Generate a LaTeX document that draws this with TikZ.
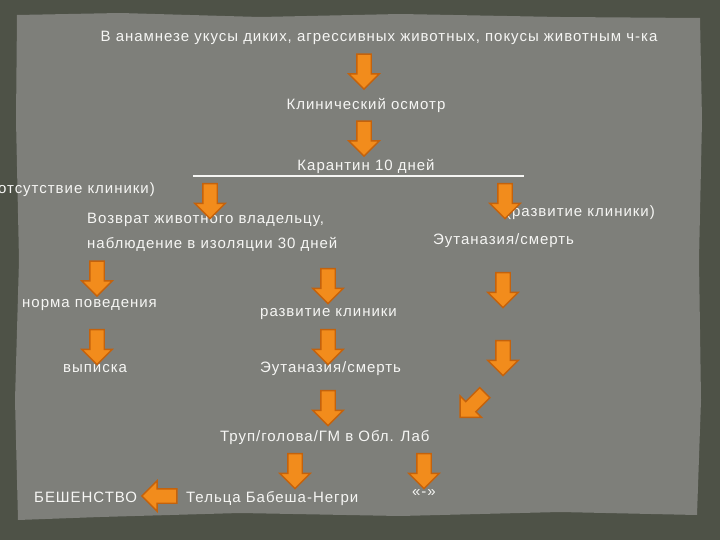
\documentclass[tikz,border=0pt]{standalone}
\usepackage{fontspec}
\setmainfont{Liberation Sans}[LetterSpace=6.5]
\usetikzlibrary{shapes.arrows}
\definecolor{frame}{HTML}{4E5247}
\definecolor{paper}{HTML}{7E7F7A}
\definecolor{arrfill}{HTML}{F28C1C}
\definecolor{arrdraw}{HTML}{C4620C}
\definecolor{txt}{HTML}{F6F6F4}
\tikzset{
  lbl/.style={inner sep=0pt, text=txt, font=\fontsize{15}{25}\selectfont},
  barrow/.style={single arrow, fill=arrfill, draw=arrdraw, line width=1.4pt,
    minimum height=35pt, inner xsep=0pt, inner ysep=6.5pt,
    single arrow head extend=8pt},
  darr/.style={barrow, rotate=-90},
}
\begin{document}
\begin{tikzpicture}[x=1pt,y=-1pt]
\useasboundingbox (0,0) rectangle (720,540);
\fill[frame] (0,0) rectangle (720,540);
\fill[paper] (17,15) -- (120,13) -- (260,17) -- (400,14) -- (560,17) -- (700,18)
  -- (702,120) -- (699,260) -- (701,400) -- (697,515) -- (560,512) -- (400,516)
  -- (240,513) -- (100,517) -- (18,520) -- (15,400) -- (19,260) -- (16,120) -- cycle;
% texts
\node[lbl] (t0) at (379,38) {В анамнезе укусы диких, агрессивных животных, покусы животным ч-ка};
\node[lbl] (t1) at (366,105) {Клинический осмотр};
\node[lbl] (t2) at (366,166) {Карантин 10 дней};
\coordinate (u1) at (193,176);
\coordinate (u2) at (524,176);
\draw[txt, line width=1.6pt] (u1) -- (u2);
\node[lbl, anchor=east] (t3) at (155,190) {(отсутствие клиники)};
\node[lbl, anchor=west, align=left] (t4) at (87,232) {Возврат животного владельцу,\\наблюдение в изоляции 30 дней};
\node[lbl, anchor=west] (t5) at (506,213) {(развитие клиники)};
\node[lbl, anchor=west] (t6) at (433,241) {Эутаназия/смерть};
\node[lbl, anchor=west] (t7) at (22,305) {норма поведения};
\node[lbl, anchor=west] (t8) at (260,314) {развитие клиники};
\node[lbl, anchor=west] (t9) at (63,369) {выписка};
\node[lbl, anchor=west] (t10) at (260,369) {Эутаназия/смерть};
\node[lbl, anchor=west] (t11) at (220,438) {Труп/голова/ГМ в Обл. Лаб};
\node[lbl, anchor=west] (t12) at (34,497) {БЕШЕНСТВО};
\node[lbl, anchor=west] (t13) at (186,499) {Тельца Бабеша-Негри};
\node[lbl] (t14) at (424,493) {«-»};
% arrows
\node[darr] (a1) at (364,68) {};
\node[darr] (a2) at (364,135) {};
\node[darr] (a3) at (210,197.5) {};
\node[darr] (a4) at (505,197.5) {};
\node[darr] (a5) at (97,275) {};
\node[darr] (a6) at (328,282.5) {};
\node[darr] (a7) at (503,286.5) {};
\node[darr] (a8) at (97,343.5) {};
\node[darr] (a9) at (328,343.5) {};
\node[darr] (a10) at (503,354.5) {};
\node[barrow, rotate=225] (a11) at (475,402.5) {};
\node[darr] (a12) at (328,404.5) {};
\node[darr] (a13) at (295,467.5) {};
\node[darr] (a14) at (424,467.5) {};
\node[barrow, rotate=180] (a15) at (163,496) {};
\end{tikzpicture}
\end{document}
